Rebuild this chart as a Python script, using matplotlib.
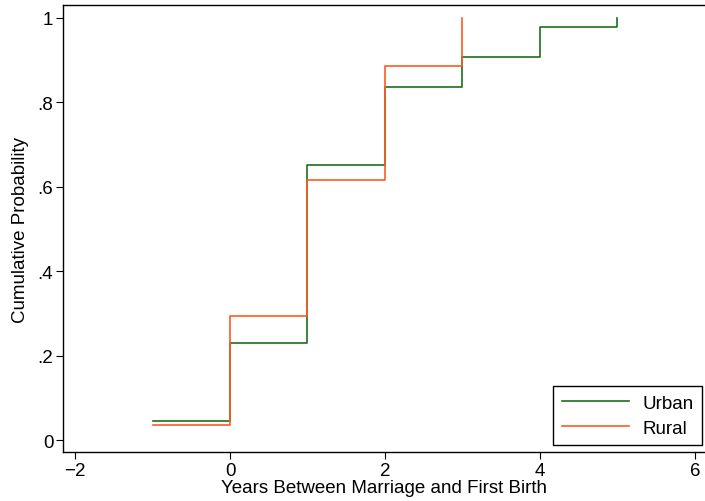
import matplotlib.pyplot as plt

plt.rcParams['font.family'] = ['Liberation Sans', 'DejaVu Sans']

# years between marriage and first birth
urban_x = [-1, 0, 1, 2, 3, 4, 5]
urban_y = [0.045, 0.231, 0.651, 0.837, 0.907, 0.978, 1.0]
rural_x = [-1, 0, 1, 2, 3]
rural_y = [0.037, 0.295, 0.615, 0.886, 1.0]

x_ticks = [-2, 0, 2, 4, 6]
y_ticks = [0, 0.2, 0.4, 0.6, 0.8, 1.0]
y_tick_labels = ['0', '.2', '.4', '.6', '.8', '1']

fig = plt.figure(figsize=(7.05, 5.02), dpi=100)
ax = fig.add_axes([0.0894, 0.0976, 0.9106, 0.890])

ax.step(urban_x, urban_y, where='post', color='#1b6e1b', lw=1.2, label='Urban')
ax.step(rural_x, rural_y, where='post', color='#ff5a1e', lw=1.2, label='Rural')

ax.set_xlim(-2.155, 6.13)
ax.set_ylim(-0.028, 1.030)
ax.set_xticks(x_ticks)
ax.set_yticks(y_ticks)
ax.set_yticklabels(y_tick_labels)
ax.tick_params(direction='out', length=5, width=0.8, labelsize=13.5, pad=2)

ax.spines['right'].set_visible(False)
for s in ['left', 'bottom', 'top']:
    ax.spines[s].set_linewidth(1.0)

ax.set_xlabel('Years Between Marriage and First Birth', fontsize=13.5, labelpad=0)
ax.set_ylabel('Cumulative Probability', fontsize=13.5, labelpad=6)

leg = ax.legend(loc='lower right', bbox_to_anchor=(0.9953, 0.0157), borderaxespad=0,
                fontsize=13.5, fancybox=False, edgecolor='black', framealpha=1,
                handlelength=3.6, handletextpad=0.7, borderpad=0.45, labelspacing=0.4)
leg.get_frame().set_linewidth(1.0)

plt.savefig('out.png', dpi=100)
